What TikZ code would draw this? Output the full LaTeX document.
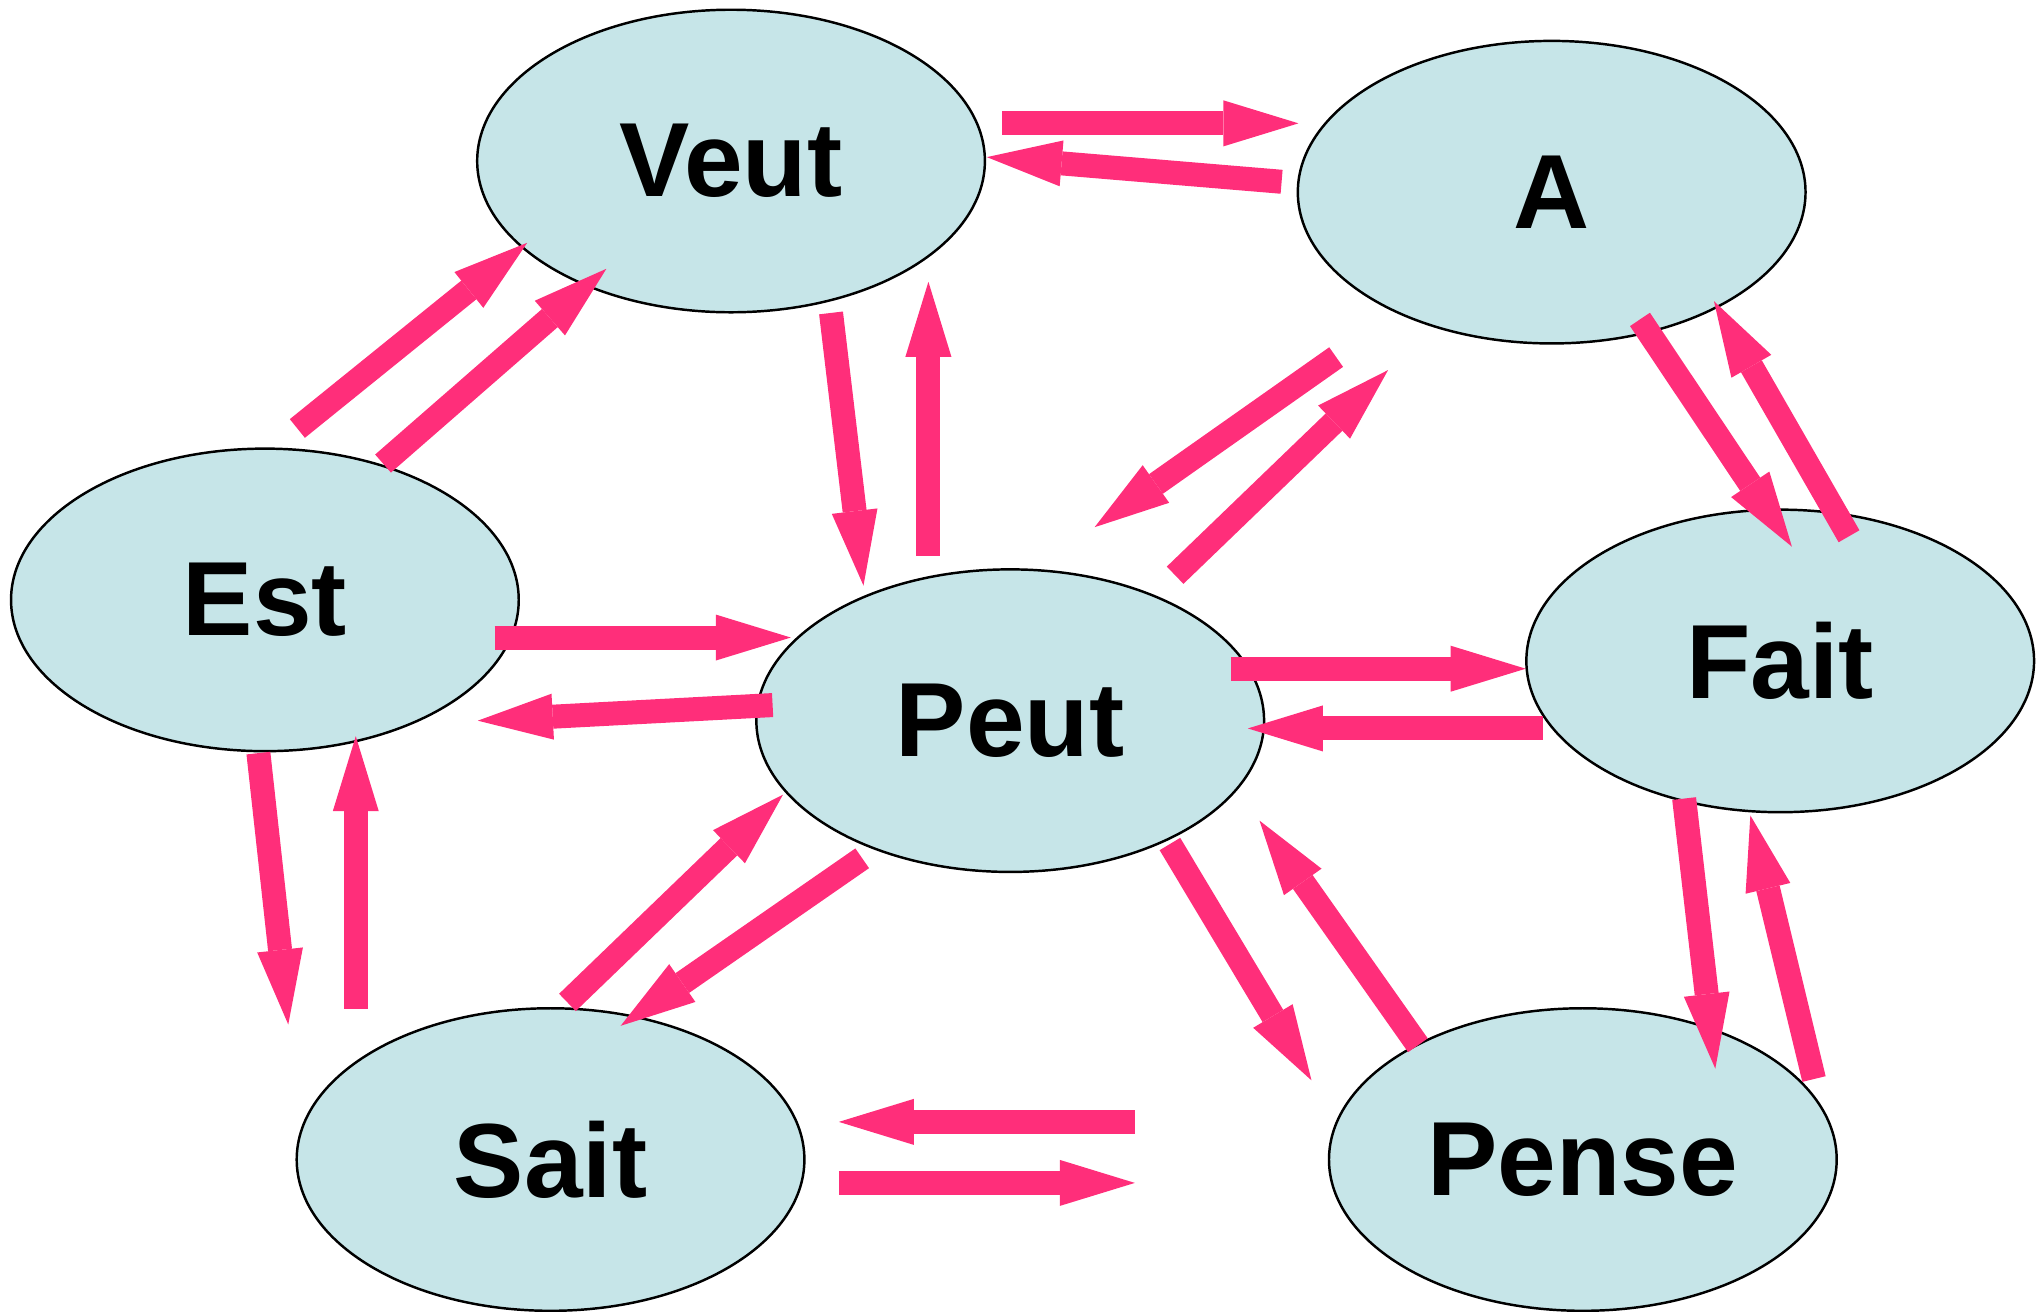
\documentclass[tikz,border=0pt]{standalone}
\usepackage{fontspec}
\setmainfont{Liberation Sans}
\usetikzlibrary{shapes.geometric}
\usetikzlibrary{arrows.meta}

\definecolor{ovalfill}{RGB}{198,229,232}
\definecolor{arrowpink}{RGB}{255,46,122}

\tikzset{
  verb/.style={ellipse, draw=black, line width=0.7pt, fill=ovalfill,
    minimum width=391*0.012985cm, minimum height=233*0.012985cm, inner sep=0pt,
    font=\fontsize{30}{36}\selectfont\bfseries},
  flow/.style={draw=arrowpink, line width=0.24cm,
    -{Triangle[width=0.46cm, length=0.75cm, line width=0pt, fill=arrowpink]}}
}

\begin{document}
\begin{tikzpicture}[x=0.012985cm, y=-0.012985cm]
  \useasboundingbox (0,0) rectangle (1568,1010);

  % the seven verbs
  \node[verb] (veut)  at (563,124) {Veut};
  \node[verb] (a)     at (1195,148) {A};
  \node[verb] (est)   at (204,462) {Est};
  \node[verb] (peut)  at (778,555) {Peut};
  \node[verb] (fait)  at (1371,509) {Fait};
  \node[verb] (sait)  at (424,893) {Sait};
  \node[verb] (pense) at (1219,893) {Pense};

  % arrow ends, name / tail / tip
  \foreach \n/\xa/\ya/\xb/\yb in {
      veut-a/772/95/1000/95, a-veut/987/140/760/121,
      est-veut/229/330/406/187, est-veut2/295/357/467/207,
      veut-peut/640/241/665/451, peut-veut/715/428/715/217,
      a-peut/1029/275/843/406, peut-a/905/443/1069/285,
      a-fait/1263/246/1380/421, fait-a/1424/413/1320/232,
      est-peut/381/491/609/491, peut-est/595/543/368/555,
      peut-fait/948/515/1175/515, fait-peut/1188/561/961/561,
      est-sait/199/580/222/789, sait-est/274/777/274/567,
      sait-peut/437/772/603/612, peut-sait/664/661/478/790,
      peut-pense/901/650/1010/832, pense-peut/1092/805/970/632,
      fait-pense/1297/615/1321/823, pense-fait/1397/831/1348/628,
      pense-sait/874/864/646/864, sait-pense/646/911/874/911}
    {
      \coordinate (\n-s) at (\xa,\ya);
      \coordinate (\n-e) at (\xb,\yb);
      \draw[flow] (\n-s) -- (\n-e);
    }
\end{tikzpicture}
\end{document}
